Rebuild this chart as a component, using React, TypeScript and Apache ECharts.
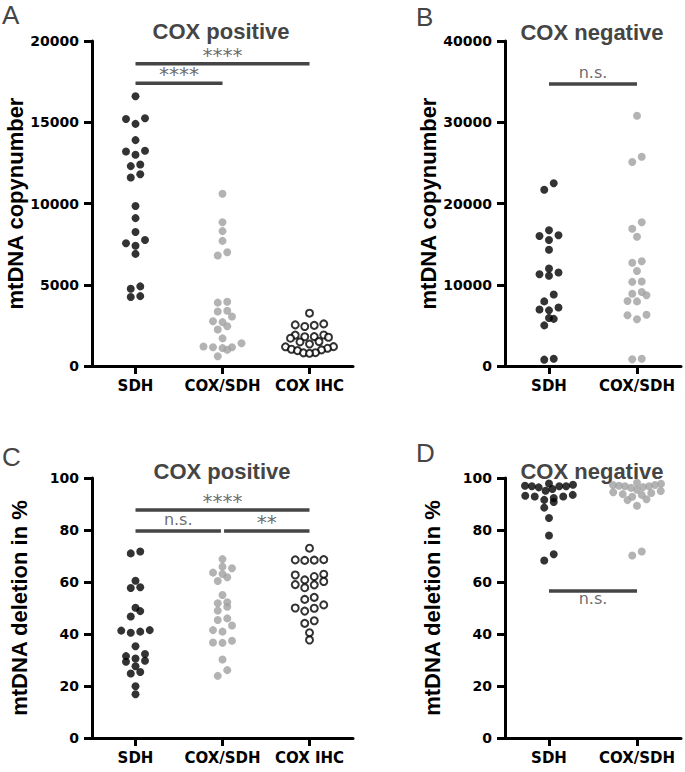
import React, { useEffect, useRef } from "react";
import * as echarts from "echarts";

// ---------- data ----------
const catsThree = ["SDH", "COX/SDH", "COX IHC"];
const catsTwo = ["SDH", "COX/SDH"];

// A: mtDNA copynumber, COX positive
const copyPosSDH = [16600, 15200, 15250, 14900, 13900, 13200, 13250, 13000, 12300, 12400, 11800, 11600, 9850, 9100, 8250, 7750, 7400, 7550, 6900, 4900, 4750, 4250, 4300];
const copyPosCOXSDH = [10600, 8850, 8300, 7700, 7000, 6800, 3950, 3900, 3400, 3350, 3050, 2750, 2700, 2450, 2250, 1700, 1400, 1150, 1150, 1100, 1200, 1000, 600];
const copyPosIHC = [3250, 2590, 2530, 2500, 2430, 1910, 1900, 1810, 1800, 1770, 1710, 1500, 1480, 1350, 1190, 1180, 1090, 1030, 990, 945, 820, 810, 780];

// B: mtDNA copynumber, COX negative
const copyNegSDH = [22500, 21700, 16700, 16100, 16000, 15500, 14300, 12000, 11500, 11100, 11300, 8800, 7950, 7200, 6850, 6950, 5800, 5900, 5000, 780, 900];
const copyNegCOXSDH = [30800, 25750, 25100, 17700, 16900, 15900, 12900, 12700, 11700, 10400, 10350, 9100, 8700, 8000, 7950, 8900, 6250, 5750, 6300, 820, 900];

// C: deletion %, COX positive
const delPosSDH = [71.7, 71.0, 60.5, 57.7, 58.0, 48.8, 50.1, 46.7, 41.5, 40.5, 40.9, 41.3, 35.3, 32.3, 30.6, 31.5, 29.3, 29.7, 27.6, 25.4, 24.8, 19.9, 16.8];
const delPosCOXSDH = [68.8, 63.6, 65.3, 65.9, 61.8, 63.1, 60.4, 55.0, 52.2, 50.5, 51.8, 49.0, 45.4, 46.0, 43.3, 41.5, 40.9, 37.4, 36.6, 36.7, 30.2, 26.1, 23.9];
const delPosIHC = [73.0, 68.3, 68.5, 68.4, 68.6, 62.7, 62.1, 63.0, 60.8, 58.9, 57.8, 59.0, 60.2, 54.1, 53.3, 49.9, 48.8, 50.0, 51.2, 45.1, 44.1, 40.5, 37.7];

// D: deletion %, COX negative
const delNegSDH = [97.9, 97.4, 97.0, 96.8, 96.8, 96.8, 96.4, 95.8, 95.1, 93.5, 93.2, 92.9, 92.9, 92.3, 91.6, 90.8, 88.6, 84.6, 77.9, 70.7, 68.3];
const delNegCOXSDH = [98.2, 97.8, 97.3, 97.3, 97.0, 96.8, 96.8, 96.5, 96.2, 95.5, 95.0, 94.5, 94.2, 93.8, 93.5, 92.8, 91.8, 91.5, 89.3, 71.7, 70.2];

// significance comparisons
const sigA = [
  { from: 0, to: 2, y: 18600, label: "****" },
  { from: 0, to: 1, y: 17400, label: "****" },
];
const sigB = [{ from: 0, to: 1, y: 34700, label: "n.s." }];
const sigC = [
  { from: 0, to: 2, y: 87.7, label: "****" },
  { from: 0, to: 1, y: 79.6, label: "n.s." },
  { from: 1, to: 2, y: 79.6, label: "**" },
];
const sigD = [{ from: 0, to: 1, y: 56.5, label: "n.s.", below: true }];

const yTicksCopyA = { max: 20000, interval: 5000 };
const yTicksCopyB = { max: 40000, interval: 10000 };
const yTicksDel = { max: 100, interval: 20 };

// ---------- styles ----------
const BLACK = "#000000";
const GRAY = "#a0a0a0";
const DARK = "#454545";
const AX = { lineStyle: { color: "#000", width: 3 } };

type Panel = {
  left: number; top: number; width: number; height: number;
  cats: string[]; yMax: number; yInterval: number; yName: string;
  groups: { values: number[]; kind: "black" | "gray" | "open" }[];
  sig: { from: number; to: number; y: number; label: string; below?: boolean }[];
};

const panels: Panel[] = [
  { left: 92, top: 41, width: 261, height: 325, cats: catsThree, yMax: yTicksCopyA.max, yInterval: yTicksCopyA.interval, yName: "mtDNA copynumber",
    groups: [{ values: copyPosSDH, kind: "black" }, { values: copyPosCOXSDH, kind: "gray" }, { values: copyPosIHC, kind: "open" }], sig: sigA },
  { left: 505, top: 41, width: 176, height: 325, cats: catsTwo, yMax: yTicksCopyB.max, yInterval: yTicksCopyB.interval, yName: "mtDNA copynumber",
    groups: [{ values: copyNegSDH, kind: "black" }, { values: copyNegCOXSDH, kind: "gray" }], sig: sigB },
  { left: 92, top: 478, width: 261, height: 260, cats: catsThree, yMax: yTicksDel.max, yInterval: yTicksDel.interval, yName: "mtDNA deletion in %",
    groups: [{ values: delPosSDH, kind: "black" }, { values: delPosCOXSDH, kind: "gray" }, { values: delPosIHC, kind: "open" }], sig: sigC },
  { left: 505, top: 478, width: 176, height: 260, cats: catsTwo, yMax: yTicksDel.max, yInterval: yTicksDel.interval, yName: "mtDNA deletion in %",
    groups: [{ values: delNegSDH, kind: "black" }, { values: delNegCOXSDH, kind: "gray" }], sig: sigD },
];

// Prism-like scatter layout: bin values into rows, spread rows horizontally
function swarm(values: number[], pxPerUnit: number, rowPx: number, spacing: number, maxWidth: number): number[] {
  const idx = values.map((_, i) => i).sort((a, b) => values[a] - values[b]);
  const offsets = new Array(values.length).fill(0);
  let i = 0;
  while (i < idx.length) {
    const start = values[idx[i]];
    const row: number[] = [];
    while (i < idx.length && (values[idx[i]] - start) * pxPerUnit < rowPx) {
      row.push(idx[i]);
      i++;
    }
    const n = row.length;
    const sp = n > 1 ? Math.min(spacing, maxWidth / (n - 1)) : 0;
    const slots: number[] = [];
    for (let k = 0; k < n; k++) slots.push((k - (n - 1) / 2) * sp);
    slots.sort((a, b) => Math.abs(a) - Math.abs(b) || a - b);
    row.forEach((p, k) => (offsets[p] = slots[k]));
  }
  return offsets;
}

function buildOption() {
  const grid: any[] = [];
  const xAxis: any[] = [];
  const yAxis: any[] = [];
  const series: any[] = [];

  panels.forEach((p, pi) => {
    grid.push({ left: p.left, top: p.top, width: p.width, height: p.height, containLabel: false });
    const n = p.cats.length;
    xAxis.push({
      type: "category", gridIndex: pi, data: p.cats, boundaryGap: true, position: "bottom",
      axisLine: { onZero: false, ...AX },
      axisTick: { show: true, alignWithLabel: true, length: 8, lineStyle: { color: "#000", width: 3 } },
      axisLabel: { color: "#000", fontFamily: "DejaVu Sans", fontWeight: "bold", fontSize: 15, margin: 12, interval: 0 },
      splitLine: { show: false },
    });
    xAxis.push({ type: "value", gridIndex: pi, min: -0.5, max: n - 0.5, show: false, splitLine: { show: false } });
    yAxis.push({
      type: "value", gridIndex: pi, min: 0, max: p.yMax, interval: p.yInterval, position: "left",
      name: p.yName, nameLocation: "middle", nameGap: 62,
      nameTextStyle: { color: "#000", fontFamily: "Liberation Sans", fontWeight: "bold", fontSize: 22 },
      axisLine: { show: true, onZero: false, ...AX },
      axisTick: { show: true, length: 8, lineStyle: { color: "#000", width: 3 } },
      axisLabel: { color: "#000", fontFamily: "DejaVu Sans", fontWeight: "bold", fontSize: 14, margin: 13, formatter: (v: number) => String(v) },
      splitLine: { show: false },
    });
    const xIdx = pi * 2 + 1;
    const pxPerUnit = p.height / p.yMax;
    const pxPerCat = p.width / n;

    // significance bars
    p.sig.forEach((s) => {
      const gap = 0.018;
      let a = s.from;
      let b = s.to;
      if (p.sig.some((o) => o !== s && o.y === s.y && o.to === s.from)) a += gap;
      if (p.sig.some((o) => o !== s && o.y === s.y && o.from === s.to)) b -= gap;
      series.push({
        type: "line", xAxisIndex: xIdx, yAxisIndex: pi, data: [[a, s.y], [b, s.y]],
        showSymbol: false, symbol: "none", silent: true, z: 3,
        lineStyle: { color: DARK, width: 3.5 },
      });
      const isText = s.label === "n.s.";
      series.push({
        type: "scatter", xAxisIndex: xIdx, yAxisIndex: pi, data: [[(a + b) / 2, s.y]],
        symbolSize: 0, silent: true, z: 4,
        label: {
          show: true, position: "inside", formatter: s.label,
          color: DARK, fontFamily: "DejaVu Sans", fontSize: isText ? 16 : 20,
          lineHeight: isText ? 16 : 12,
          offset: [0, s.below ? 7 : isText ? -12 : -9],
        },
      });
    });

    // data points
    p.groups.forEach((g, gi) => {
      const offs = swarm(g.values, pxPerUnit, 7, 9.5, 48);
      const data = g.values.map((v, k) => [gi + offs[k] / pxPerCat, v]);
      const itemStyle =
        g.kind === "black" ? { color: BLACK } :
        g.kind === "gray" ? { color: GRAY } :
        { color: "#ffffff", borderColor: "#000", borderWidth: 2 };
      series.push({
        type: "scatter", xAxisIndex: xIdx, yAxisIndex: pi, data,
        symbol: "circle", symbolSize: g.kind === "open" ? 7 : 8, itemStyle, z: 5,
      });
    });
  });

  const titleFont = { fontFamily: "Liberation Sans", fontWeight: "bold", fontSize: 22, fill: DARK };
  const letterFont = { fontFamily: "Liberation Sans", fontWeight: "normal", fontSize: 26, fill: DARK };
  const graphic: any[] = [
    { type: "text", x: 221, y: 20, style: { text: "COX positive", align: "center", verticalAlign: "top", ...titleFont } },
    { type: "text", x: 592, y: 21, style: { text: "COX negative", align: "center", verticalAlign: "top", ...titleFont } },
    { type: "text", x: 222, y: 460, style: { text: "COX positive", align: "center", verticalAlign: "top", ...titleFont } },
    { type: "text", x: 592, y: 460, style: { text: "COX negative", align: "center", verticalAlign: "top", ...titleFont } },
    { type: "text", x: 2, y: 2, style: { text: "A", align: "left", verticalAlign: "top", ...letterFont } },
    { type: "text", x: 416, y: 4, style: { text: "B", align: "left", verticalAlign: "top", ...letterFont } },
    { type: "text", x: 2, y: 444, style: { text: "C", align: "left", verticalAlign: "top", ...letterFont } },
    { type: "text", x: 416, y: 440, style: { text: "D", align: "left", verticalAlign: "top", ...letterFont } },
  ];

  return { animation: false, backgroundColor: "#ffffff", grid, xAxis, yAxis, series, graphic };
}

export default function App() {
  const ref = useRef<HTMLDivElement>(null);
  useEffect(() => {
    if (!ref.current) return;
    const chart = echarts.init(ref.current, undefined, { renderer: "svg" });
    chart.setOption(buildOption() as any);
    return () => chart.dispose();
  }, []);
  return (
    <div
      ref={ref}
      style={{ position: "fixed", left: 0, top: 0, width: 685, height: 772, background: "#fff" }}
    />
  );
}
